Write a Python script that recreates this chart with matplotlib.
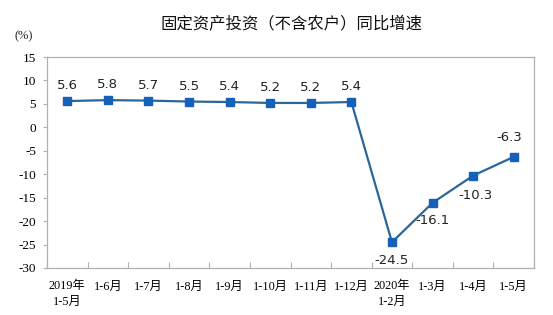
import matplotlib
matplotlib.use("Agg")
import matplotlib.pyplot as plt

categories = ["2019年\n1-5月", "1-6月", "1-7月", "1-8月", "1-9月", "1-10月", "1-11月",
              "1-12月", "2020年\n1-2月", "1-3月", "1-4月", "1-5月"]
values = [5.6, 5.8, 5.7, 5.5, 5.4, 5.2, 5.2, 5.4, -24.5, -16.1, -10.3, -6.3]
yticks = [15, 10, 5, 0, -5, -10, -15, -20, -25, -30]
title = "固定资产投资（不含农户）同比增速"
unit = "(%)"

W, H = 553, 315
fig = plt.figure(figsize=(W / 100, H / 100), dpi=100)
L, R, T, B = 47, 534, 57, 268
ax = fig.add_axes([L / W, 1 - B / H, (R - L) / W, (B - T) / H])

x = list(range(len(values)))
ax.plot(x, values, color="#2a6698", lw=1.6, marker="s", ms=6,
        mfc="#1560b8", mec="#1560b8", zorder=3)

ax.set_xlim(-0.5, len(values) - 0.5)
ax.set_ylim(-30, 15)
ax.set_yticks(yticks)
ax.set_yticklabels([str(t) for t in yticks], family=["Liberation Serif"], fontsize=9.5)
ax.set_xticks([i - 0.5 for i in range(len(values) + 1)], minor=False)
ax.set_xticklabels([])
ax.set_xticks(x, minor=True)
ax.set_xticklabels(categories, minor=True, fontsize=8.8,
                   family=["Liberation Serif", "Noto Sans CJK SC"], linespacing=1.35)
ax.tick_params(axis="x", which="major", direction="in", length=4, color="#b0b0b0")
ax.tick_params(axis="x", which="minor", length=0, pad=9)
ax.tick_params(axis="y", direction="out", length=3, color="#b0b0b0", pad=5)
for s in ax.spines.values():
    s.set_color("#b0b0b0")
    s.set_linewidth(0.9)

offsets = [(0, 11)] * 8 + [(0, -13), (0, -13), (2, -14), (-3, 14)]
for xi, v, (dx, dy) in zip(x, values, offsets):
    ax.annotate(f"{v:.1f}", (xi, v), xytext=(dx, dy), textcoords="offset points",
                ha="center", va="center", fontsize=9.5, family="DejaVu Sans",
                color="#222222")

fig.text(292 / W, 1 - 25 / H, title, ha="center", va="center", fontsize=11.8,
         family=["Noto Sans CJK SC", "DejaVu Sans"], color="#111111")
fig.text(24 / W, 1 - 36 / H, unit, ha="center", va="center", fontsize=9,
         family=["Liberation Serif"], color="#222222")

fig.savefig("out.png", dpi=100)
